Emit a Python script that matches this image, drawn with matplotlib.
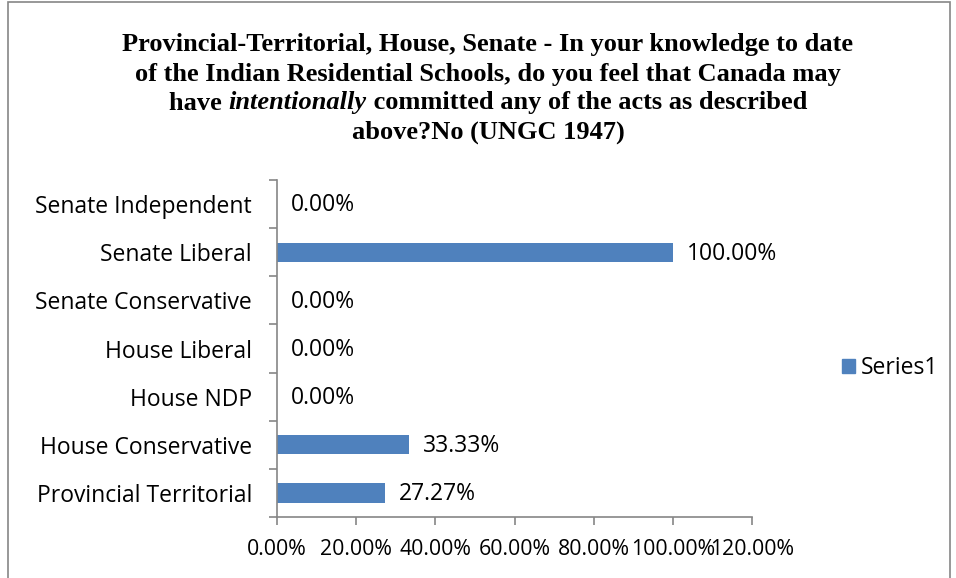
import matplotlib
matplotlib.use('Agg')
import matplotlib.pyplot as plt
from matplotlib.patches import Rectangle, Patch
from matplotlib.ticker import FixedLocator

# Chart data
categories = ["Provincial Territorial", "House Conservative", "House NDP",
              "House Liberal", "Senate Conservative", "Senate Liberal",
              "Senate Independent"]
values = [27.27, 33.33, 0.0, 0.0, 0.0, 100.0, 0.0]
x_ticks = [0, 20, 40, 60, 80, 100, 120]
series_name = "Series1"

title_lines = [
    [("Provincial-Territorial, House, Senate - In your knowledge to date", "normal")],
    [("of the Indian Residential Schools, do you feel that Canada may", "normal")],
    [("have ", "normal"), ("intentionally", "italic"),
     (" committed any of the acts as described", "normal")],
    [("above?No (UNGC 1947)", "normal")],
]

bar_color = "#4F81BD"
axis_color = "#868686"
label_font = "Open Sans"
title_font = "Liberation Serif"
fs = 16.5

W, H = 956, 578
fig = plt.figure(figsize=(W / 100, H / 100), dpi=100)

# outer chart border
fig.patches.append(Rectangle((8 / W, -0.01), (950 - 8) / W, 1 - 2 / H + 0.01,
                             transform=fig.transFigure, fill=False,
                             edgecolor=axis_color, linewidth=1.2))

ax = fig.add_axes([277 / W, 1 - 517 / H, (752 - 277) / W, (517 - 180) / H])

y = list(range(len(categories)))
ax.barh(y, values, height=0.4, color=bar_color, label=series_name)

ax.set_xlim(0, 120)
ax.set_ylim(-0.5, len(categories) - 0.5)
ax.xaxis.set_major_locator(FixedLocator(x_ticks))
# slightly smaller so neighbouring tick labels just touch
ax.set_xticklabels([f"{t:.2f}%" for t in x_ticks], fontfamily=label_font, fontsize=15.3)

# category labels centered, tick marks at boundaries
ax.set_yticks(y)
ax.set_yticklabels(categories, fontfamily=label_font, fontsize=fs)
ax.tick_params(axis='y', length=0, pad=18)
ax.yaxis.set_minor_locator(FixedLocator([i - 0.5 for i in range(len(categories) + 1)]))
ax.tick_params(axis='y', which='minor', length=6, color=axis_color, width=1.2)
ax.tick_params(axis='x', length=6, color=axis_color, width=1.2, pad=10)

for s in ['top', 'right']:
    ax.spines[s].set_visible(False)
for s in ['left', 'bottom']:
    ax.spines[s].set_color(axis_color)
    ax.spines[s].set_linewidth(1.2)

# data labels
for yi, v in zip(y, values):
    ax.annotate(f"{v:.2f}%", xy=(v, yi), xytext=(10, -1), textcoords='offset points',
                va='center', ha='left', fontfamily=label_font, fontsize=fs)

# legend
fig.legend(handles=[Patch(color=bar_color, label=series_name)],
           loc='center left', bbox_to_anchor=(821 / W, 1 - 368 / H),
           frameon=False, handlelength=0.6, handleheight=0.6, handletextpad=0.25,
           prop={'family': label_font, 'size': fs})

# title with mixed italic segment
fig.canvas.draw()
renderer = fig.canvas.get_renderer()
line_y = [45, 74, 103, 132]
for parts, ly in zip(title_lines, line_y):
    texts = []
    total = 0
    for txt, style in parts:
        t = fig.text(0, 1 - ly / H, txt, fontfamily=title_font, fontweight='bold',
                     fontstyle=style, fontsize=19, va='center', ha='left')
        w = t.get_window_extent(renderer).width
        texts.append((t, w))
        total += w
    x0 = 488 - total / 2
    for t, w in texts:
        t.set_x(x0 / W)
        x0 += w

fig.savefig("out.png", dpi=100)
